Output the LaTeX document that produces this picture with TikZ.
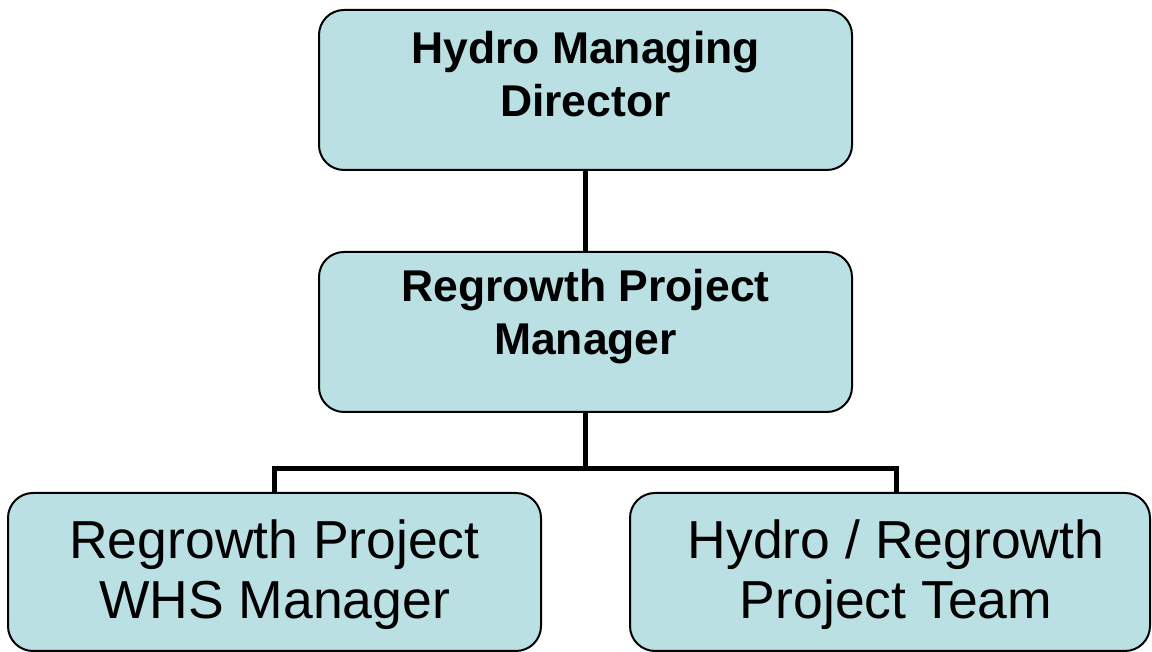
\documentclass[tikz,border=0pt]{standalone}
\usepackage{fontspec}
\setmainfont{Liberation Sans}
\definecolor{boxfill}{RGB}{187,224,228}
\begin{document}
\begin{tikzpicture}[x=1pt,y=1pt,
  orgbox/.style={draw=black, line width=2pt, fill=boxfill, rounded corners=25pt, inner sep=0pt},
  boldtxt/.style={align=center, inner sep=0pt, text depth=0pt, anchor=south,
    font=\fontsize{44.5}{53}\selectfont\bfseries},
  plaintxt/.style={align=center, inner sep=0pt, text depth=0pt, anchor=south,
    font=\fontsize{53.5}{60}\selectfont},
  link/.style={line width=5pt}]
\useasboundingbox (0,0) rectangle (1152,652);
\node[orgbox, minimum width=533pt, minimum height=160pt] (md) at (585.5,562) {};
\node[orgbox, minimum width=533pt, minimum height=160pt] (pm) at (585.5,320) {};
\node[orgbox, minimum width=533pt, minimum height=158pt] (whs) at (274.5,80) {};
\node[orgbox, minimum width=520pt, minimum height=158pt] (team) at (890,80) {};
\node[boldtxt] (mdt) at (585.5,535.5) {Hydro Managing\\Director};
\node[boldtxt] (pmt) at (585.5,297) {Regrowth Project\\Manager};
\node[plaintxt] (whst) at (274.5,33.7) {Regrowth Project\\WHS Manager};
\node[plaintxt] (teamt) at (896,33.7) {Hydro / Regrowth\\Project Team};
\coordinate (j) at (585.5,183);
\coordinate (jr) at (896,183);
\draw[link] (md.south) -- (pm.north);
\draw[link] (pm.south) -- (j);
\draw[link] (whs.north) |- (jr) -- (jr |- team.north);
\end{tikzpicture}
\end{document}
